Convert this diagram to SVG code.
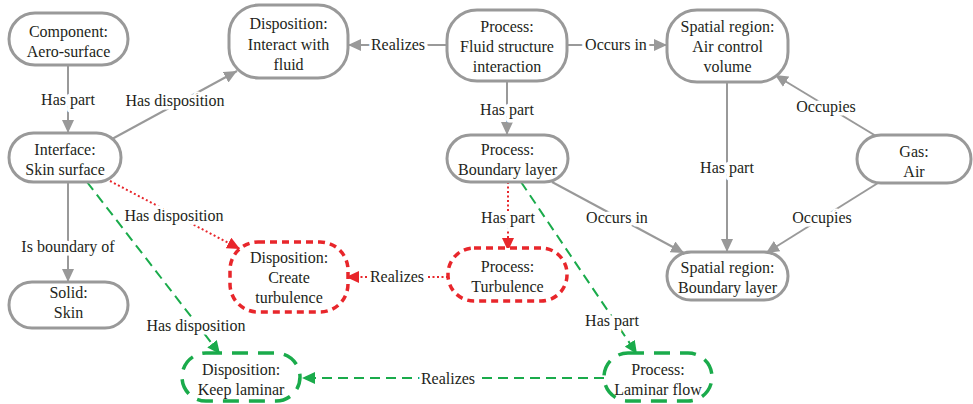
<svg xmlns="http://www.w3.org/2000/svg" width="973" height="404" viewBox="0 0 973 404" font-family="'Liberation Serif', 'DejaVu Serif', serif">
  <style>
    text { font-family: 'Liberation Serif', 'DejaVu Serif', serif; font-size: 16px; fill: #231f20; text-anchor: middle; }
    .node { fill: #ffffff; stroke: #999999; stroke-width: 3; }
    .node-red { fill: #ffffff; stroke: #e8262b; stroke-width: 3.5; stroke-dasharray: 7 5; }
    .node-green { fill: #ffffff; stroke: #1aab4b; stroke-width: 3.5; stroke-dasharray: 16 10; }
    .edge { fill: none; stroke: #999999; stroke-width: 2; }
    .edge-red { fill: none; stroke: #e8262b; stroke-width: 2; stroke-dasharray: 2 2.5; }
    .edge-green { fill: none; stroke: #1aab4b; stroke-width: 2; stroke-dasharray: 10 6; }
    .lbl { paint-order: stroke; stroke: #ffffff; stroke-width: 7; stroke-linejoin: round; }
  </style>
  <defs>
    <marker id="arrowGray" markerUnits="userSpaceOnUse" markerWidth="14" markerHeight="12" refX="13" refY="6" orient="auto">
      <path d="M0,0 L13,6 L0,12 z" fill="#999999"/>
    </marker>
    <marker id="arrowRed" markerUnits="userSpaceOnUse" markerWidth="14" markerHeight="12" refX="13" refY="6" orient="auto">
      <path d="M0,0 L13,6 L0,12 z" fill="#e8262b"/>
    </marker>
    <marker id="arrowGreen" markerUnits="userSpaceOnUse" markerWidth="14" markerHeight="12" refX="13" refY="6" orient="auto">
      <path d="M0,0 L13,6 L0,12 z" fill="#1aab4b"/>
    </marker>
  </defs>

  <!-- connectors -->
  <g id="connectors" font-family="'Liberation Serif', serif">
    <line class="edge" x1="68" y1="65" x2="68" y2="133" marker-end="url(#arrowGray)"/>
    <line class="edge" x1="112" y1="139" x2="237" y2="71" marker-end="url(#arrowGray)"/>
    <line class="edge" x1="447" y1="45" x2="348" y2="45" marker-end="url(#arrowGray)"/>
    <line class="edge" x1="567" y1="45" x2="667" y2="45" marker-end="url(#arrowGray)"/>
    <line class="edge" x1="507" y1="81" x2="507" y2="135" marker-end="url(#arrowGray)"/>
    <line class="edge" x1="876" y1="136" x2="775" y2="75" marker-end="url(#arrowGray)"/>
    <line class="edge" x1="727" y1="82" x2="727" y2="252" marker-end="url(#arrowGray)"/>
    <line class="edge" x1="878" y1="183" x2="766" y2="253" marker-end="url(#arrowGray)"/>
    <line class="edge" x1="552" y1="182" x2="684" y2="253" marker-end="url(#arrowGray)"/>
    <line class="edge" x1="68" y1="182" x2="68" y2="282" marker-end="url(#arrowGray)"/>

    <line class="edge-red" x1="110" y1="181" x2="240" y2="249" marker-end="url(#arrowRed)"/>
    <line class="edge-red" x1="508" y1="182" x2="508" y2="251" marker-end="url(#arrowRed)"/>
    <line class="edge-red" x1="448" y1="277" x2="346" y2="277" marker-end="url(#arrowRed)"/>

    <line class="edge-green" x1="87" y1="182" x2="220" y2="354" marker-end="url(#arrowGreen)"/>
    <line class="edge-green" x1="521" y1="182" x2="637" y2="354" marker-end="url(#arrowGreen)"/>
    <line class="edge-green" x1="604" y1="378" x2="302" y2="378" marker-end="url(#arrowGreen)"/>

    <text class="lbl" x="68" y="105">Has part</text>
    <text class="lbl" x="175" y="106">Has disposition</text>
    <text class="lbl" x="398" y="50">Realizes</text>
    <text class="lbl" x="616" y="50">Occurs in</text>
    <text class="lbl" x="507" y="115">Has part</text>
    <text class="lbl" x="826" y="112">Occupies</text>
    <text class="lbl" x="727" y="173">Has part</text>
    <text class="lbl" x="822" y="223">Occupies</text>
    <text class="lbl" x="617" y="223">Occurs in</text>
    <text class="lbl" x="508" y="223">Has part</text>
    <text class="lbl" x="174" y="221">Has disposition</text>
    <text class="lbl" x="68" y="252">Is boundary of</text>
    <text class="lbl" x="397" y="282">Realizes</text>
    <text class="lbl" x="196" y="331">Has disposition</text>
    <text class="lbl" x="612" y="326">Has part</text>
    <text class="lbl" x="448" y="384">Realizes</text>
  </g>

  <!-- nodes -->
  <g id="component-aero-surface">
    <rect class="node" x="9" y="13" width="119" height="52" rx="26"/>
    <text x="68.5" y="37">Component:</text>
    <text x="68.5" y="57">Aero-surface</text>
  </g>
  <g id="disposition-interact-with-fluid">
    <rect class="node" x="229" y="5" width="119" height="73" rx="30"/>
    <text x="288.5" y="29">Disposition:</text>
    <text x="288.5" y="49.5">Interact with</text>
    <text x="288.5" y="70">fluid</text>
  </g>
  <g id="process-fluid-structure-interaction">
    <rect class="node" x="447" y="10" width="120" height="71" rx="30"/>
    <text x="507" y="32">Process:</text>
    <text x="507" y="52">Fluid structure</text>
    <text x="507" y="72">interaction</text>
  </g>
  <g id="spatial-region-air-control-volume">
    <rect class="node" x="667" y="10" width="121" height="72" rx="30"/>
    <text x="727.5" y="32">Spatial region:</text>
    <text x="727.5" y="52">Air control</text>
    <text x="727.5" y="72">volume</text>
  </g>
  <g id="interface-skin-surface">
    <rect class="node" x="9" y="133" width="112" height="49" rx="24.5"/>
    <text x="65" y="155">Interface:</text>
    <text x="65" y="175">Skin surface</text>
  </g>
  <g id="solid-skin">
    <rect class="node" x="9" y="282" width="119" height="46" rx="23"/>
    <text x="68.5" y="298">Solid:</text>
    <text x="68.5" y="318">Skin</text>
  </g>
  <g id="process-boundary-layer">
    <rect class="node" x="447" y="135" width="121" height="47" rx="23.5"/>
    <text x="507.5" y="155">Process:</text>
    <text x="507.5" y="175">Boundary layer</text>
  </g>
  <g id="gas-air">
    <rect class="node" x="857" y="135" width="114" height="48" rx="24"/>
    <text x="914" y="157">Gas:</text>
    <text x="914" y="177">Air</text>
  </g>
  <g id="spatial-region-boundary-layer">
    <rect class="node" x="667" y="252" width="121" height="48" rx="24"/>
    <text x="727.5" y="273">Spatial region:</text>
    <text x="727.5" y="293">Boundary layer</text>
  </g>
  <g id="disposition-create-turbulence">
    <rect class="node-red" x="230" y="242" width="118" height="70" rx="28"/>
    <text x="289" y="263">Disposition:</text>
    <text x="289" y="283">Create</text>
    <text x="289" y="303">turbulence</text>
  </g>
  <g id="process-turbulence">
    <rect class="node-red" x="448" y="248" width="119" height="53" rx="26"/>
    <text x="507.5" y="272">Process:</text>
    <text x="507.5" y="292">Turbulence</text>
  </g>
  <g id="disposition-keep-laminar">
    <rect class="node-green" x="182" y="353" width="118" height="48" rx="24"/>
    <text x="241" y="375">Disposition:</text>
    <text x="241" y="395">Keep laminar</text>
  </g>
  <g id="process-laminar-flow">
    <rect class="node-green" x="604" y="353" width="108" height="48" rx="24"/>
    <text x="658" y="375">Process:</text>
    <text x="658" y="395">Laminar flow</text>
  </g>
</svg>
